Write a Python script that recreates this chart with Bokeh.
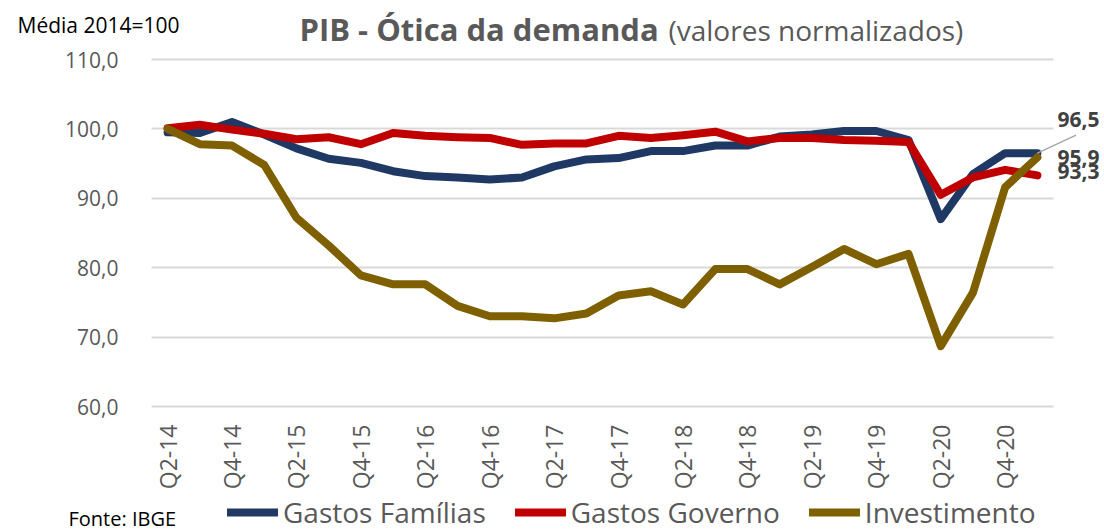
import math
from bokeh.plotting import figure
from bokeh.models import (Range1d, FixedTicker, Label, Legend, LegendItem, Arrow, Grid)
from bokeh.embed import file_html
from bokeh.resources import INLINE

quarters = ["Q2-14", "Q3-14", "Q4-14",
            "Q1-15", "Q2-15", "Q3-15", "Q4-15",
            "Q1-16", "Q2-16", "Q3-16", "Q4-16",
            "Q1-17", "Q2-17", "Q3-17", "Q4-17",
            "Q1-18", "Q2-18", "Q3-18", "Q4-18",
            "Q1-19", "Q2-19", "Q3-19", "Q4-19",
            "Q1-20", "Q2-20", "Q3-20", "Q4-20",
            "Q1-21"]
familias = [99.5, 99.4, 101.0, 99.2, 97.2, 95.7, 95.1, 93.9, 93.2, 93.0, 92.7, 93.0, 94.6, 95.6,
            95.8, 96.8, 96.8, 97.6, 97.6, 98.9, 99.2, 99.7, 99.7, 98.4, 87.0, 93.5, 96.5, 96.5]
governo = [100.1, 100.6, 99.9, 99.3, 98.5, 98.8, 97.8, 99.4, 99.0, 98.8, 98.7, 97.7, 97.9, 97.9,
           99.0, 98.7, 99.1, 99.6, 98.2, 98.7, 98.7, 98.4, 98.3, 98.1, 90.5, 93.0, 94.1, 93.3]
investimento = [100.0, 97.8, 97.6, 94.8, 87.2, 83.2, 78.9, 77.6, 77.6, 74.5, 73.0, 73.0, 72.7, 73.4,
                76.0, 76.6, 74.7, 79.8, 79.8, 77.6, 80.1, 82.7, 80.5, 82.0, 68.7, 76.4, 91.6, 95.9]
series_names = ["Gastos Famílias", "Gastos Governo", "Investimento"]
y_ticks = [60, 70, 80, 90, 100, 110]
y_tick_labels = ["60,0", "70,0", "80,0", "90,0", "100,0", "110,0"]

colors = ["#1F3864", "#C00000", "#7F6000"]
GRAY = "#595959"

# canvas and the data area inside it (pixels)
W, H = 1104, 532
AL, AR, AT, AB = 151, 1053, 59, 406   # data area edges
n = len(quarters)
x0, x1 = -0.5, n - 0.5
y0, y1 = y_ticks[0], y_ticks[-1]
kx = (AR - AL) / (x1 - x0)
ky = (AB - AT) / (y1 - y0)
xr = Range1d(x0 - AL / kx, x1 + (W - AR) / kx)
yr = Range1d(y0 - (H - AB) / ky, y1 + AT / ky)

x = list(range(n))

p = figure(width=W, height=H, output_backend="svg", toolbar_location=None,
           x_range=xr, y_range=yr, min_border=0)
p.outline_line_color = None
p.background_fill_color = "white"
p.border_fill_color = "white"

# horizontal grid only over the data area
p.xgrid.visible = False
if "cross_bounds" in Grid.properties():
    p.ygrid.ticker = FixedTicker(ticks=y_ticks)
    p.ygrid.bounds = (y0, y1)
    p.ygrid.cross_bounds = (x0, x1)
    p.ygrid.grid_line_color = "#D9D9D9"
    p.ygrid.grid_line_width = 2
else:
    p.ygrid.visible = False
    p.segment(x0=[x0] * len(y_ticks), x1=[x1] * len(y_ticks), y0=y_ticks, y1=y_ticks,
              line_color="#D9D9D9", line_width=2)

# axes drawn at the edges of the data area
p.yaxis.fixed_location = x0
p.yaxis.ticker = FixedTicker(ticks=y_ticks)
p.yaxis.major_label_overrides = {t: s for t, s in zip(y_ticks, y_tick_labels)}
p.yaxis.axis_line_color = None
p.yaxis.major_tick_line_color = None
p.yaxis.minor_tick_line_color = None
p.yaxis.major_tick_out = 0
p.yaxis.major_tick_in = 0
p.yaxis.major_label_standoff = 33
p.yaxis.major_label_text_font = "Open Sans"
p.yaxis.major_label_text_font_size = "21px"
p.yaxis.major_label_text_color = GRAY

xt = x[::2]
p.xaxis.fixed_location = y0
p.xaxis.ticker = FixedTicker(ticks=xt)
p.xaxis.major_label_overrides = {i: quarters[i] for i in xt}
p.xaxis.major_label_orientation = math.pi / 2
p.xaxis.axis_line_color = None
p.xaxis.major_tick_line_color = None
p.xaxis.minor_tick_line_color = None
p.xaxis.major_tick_out = 0
p.xaxis.major_tick_in = 0
p.xaxis.major_label_standoff = 18
p.xaxis.major_label_text_font = "Open Sans"
p.xaxis.major_label_text_font_size = "23px"
p.xaxis.major_label_text_color = GRAY

renderers = []
for vals, c in zip([familias, governo, investimento], colors):
    r = p.line(x, vals, line_color=c, line_width=8, line_join="round", line_cap="round")
    renderers.append(r)

legend = Legend(items=[LegendItem(label=s, renderers=[r]) for s, r in zip(series_names, renderers)],
                orientation="horizontal", location=(227, 1),
                label_text_font="Open Sans", label_text_font_size="28px",
                label_text_color=GRAY, glyph_width=51, glyph_height=30, label_height=30,
                label_standoff=5, spacing=29, padding=0, margin=0,
                border_line_color=None, background_fill_alpha=0)
p.add_layout(legend, "center")

def sy(ref_y):
    return H - ref_y

def note(xp, yp, text, size, color, bold=False):
    p.add_layout(Label(x=xp, y=sy(yp), x_units="screen", y_units="screen",
                       text=text, text_font="Open Sans",
                       text_font_style="bold" if bold else "normal",
                       text_font_size=size, text_color=color, text_baseline="middle"))

note(299, 28, "PIB - Ótica da demanda", "31px", GRAY, bold=True)
note(668, 29, "(valores normalizados)", "28px", GRAY)
note(17, 24, "Média 2014=100", "21px", "black")
note(68, 518, "Fonte: IBGE", "20px", "black")

# end value labels
last = n - 1
def fmt(v):
    return f"{v:.1f}".replace(".", ",")

p.add_layout(Arrow(end=None, x_start=last, y_start=familias[-1],
                   x_end=last + 1.2, y_end=familias[-1] + 2.6,
                   line_color="#A6A6A6", line_width=1.5))
for v, dy in [(familias[-1], 34), (investimento[-1], 0), (governo[-1], 4)]:
    p.add_layout(Label(x=last, y=v, x_offset=20, y_offset=dy, text=fmt(v),
                       text_font="Open Sans", text_font_style="bold", text_font_size="21px",
                       text_color="#404040", text_baseline="middle"))

open("out.html", "w").write(file_html(p, INLINE))
